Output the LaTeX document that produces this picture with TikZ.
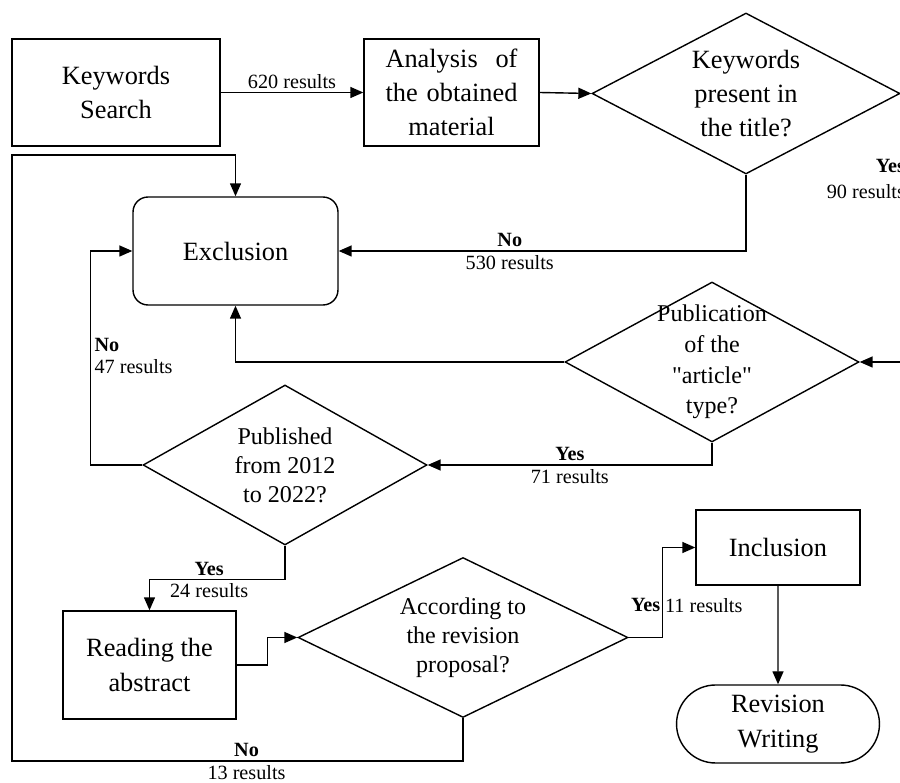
\documentclass[tikz,border=0pt]{standalone}
\usepackage{fontspec}
\setmainfont{Liberation Serif}[Ligatures=TeXOff]
\usetikzlibrary{arrows.meta,shapes.geometric,shapes.misc}

\begin{document}
\begin{tikzpicture}[
  x=0.02cm, y=-0.02cm,
  box/.style={draw, line width=0.8pt, align=center, inner sep=2pt, font=\fontsize{15}{19.5}\selectfont},
  decide/.style={draw, diamond, line width=0.8pt, shape aspect=2, inner sep=0pt, align=center, font=\fontsize{13.7}{16.5}\selectfont},
  lbl/.style={font=\fontsize{11.5}{12.5}\selectfont, inner sep=2pt},
  arr/.style={-{Triangle[length=2.6mm, width=2.2mm]}, line width=0.8pt},
]
\useasboundingbox (0,0) rectangle (900,783);

% --- Search and first screening ---
\node[box, minimum width=4.16cm, minimum height=2.14cm] (kws) at (116, 92.5) {Keywords\\Search};
\node[box, minimum width=3.5cm, minimum height=2.14cm] (ana) at (451.5, 92.5)
  {\makebox[2.64cm][s]{Analysis of}\\\makebox[2.64cm][s]{the obtained}\\material};
\node[decide, font=\fontsize{15}{19.5}\selectfont, minimum width=6.16cm, minimum height=3.22cm] (kwq) at (746, 93.5)
  {Keywords\\present in\\the title?};

\draw[arr] (kws) -- node[lbl, above] {620 results} (ana);
\draw[arr] (ana.east) -- (kwq.west);

% --- Exclusion ---
\node[box, rounded corners=0.3cm, minimum width=4.1cm, minimum height=2.16cm] (exc) at (235.5, 251) {Exclusion};

\draw[arr] (kwq.south) |- node[lbl, pos=0.79, above] {\textbf{No}} node[lbl, pos=0.79, below] {530 results} (exc.east);
\node[lbl, anchor=west] (yes90) at (872, 166) {\textbf{Yes}};
\node[lbl, anchor=west] (res90) at (823, 192) {90 results};

% --- Type and date checks ---
\node[decide, inner sep=-5pt, font=\fontsize{13.7}{17.5}\selectfont, minimum width=5.88cm, minimum height=3.2cm] (pub) at (712, 362)
  {Publication\\of the\\"article"\\type?};
\node[decide, minimum width=5.68cm, minimum height=3.2cm] (pubq) at (285, 465)
  {Published\\from 2012\\to 2022?};

% Yes branch leaves the page on the right and comes back into pub
\draw[arr] (kwq.east) -- ++(30,0) |- (pub.east);
\draw[arr] (pub.west) -| (exc.south);
\draw[arr] (pub.south) |- node[lbl, pos=0.75, above] {\textbf{Yes}} node[lbl, pos=0.75, below] {71 results} (pubq.east);
\draw[arr] (pubq.west) -- ++(-52,0) |- node[lbl, pos=0.255, right, align=left] {\textbf{No}\\47 results} (exc.west);

% --- Abstract reading ---
\node[box, minimum width=3.46cm, minimum height=2.16cm] (read) at (149.5, 665) {Reading the\\abstract};
\node[decide, minimum width=6.6cm, minimum height=3.2cm] (acc) at (463, 637.5)
  {According to\\the revision\\proposal?};

\draw[arr] (pubq.south) -- ++(0,34) -| node[lbl, pos=0.28, above] {\textbf{Yes}} node[lbl, pos=0.28, below] {24 results} (read.north);
\draw[arr] (read.east) -- ++(31,0) |- (acc.west);

% --- Inclusion ---
\node[box, minimum width=3.28cm, minimum height=1.5cm] (inc) at (778, 547.5) {Inclusion};
\node[box, rounded rectangle, minimum width=4.2cm, minimum height=1.56cm] (rev) at (778, 724) {Revision\\Writing};

\draw[arr] (acc.east) -- ++(34,0) |- node[lbl, pos=0.18, left, inner sep=1pt] {\textbf{Yes}} node[lbl, pos=0.18, right, inner sep=1pt] {11 results} (inc.west);
\draw[arr] (inc) -- (rev);

% Route acc->exc round the bottom and the far left
\coordinate (lowleft) at (12, 761);
\coordinate (topleft) at (12, 155);
\draw[arr] (acc.south) |- node[lbl, pos=0.74, above] {\textbf{No}} node[lbl, pos=0.74, below] {13 results} (lowleft) -- (topleft) -| (exc.north);

\end{tikzpicture}
\end{document}
